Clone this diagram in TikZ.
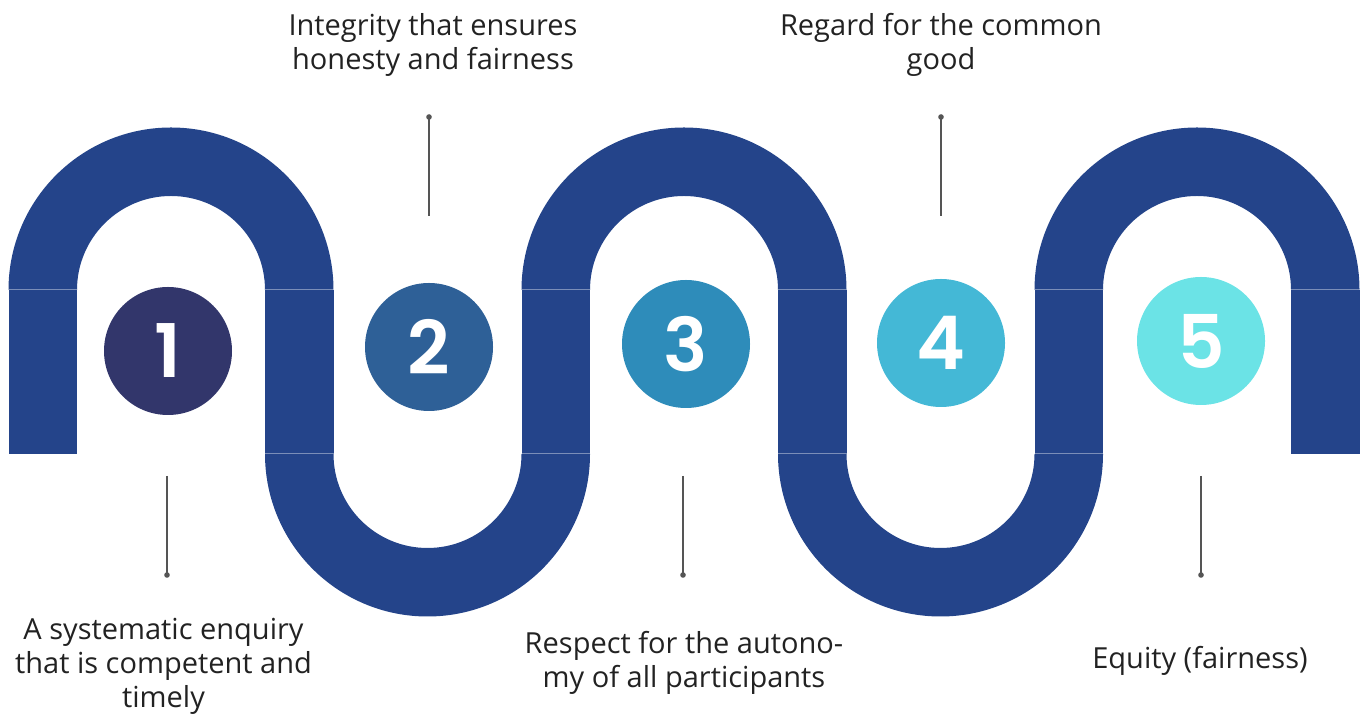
\documentclass[tikz,border=0pt]{standalone}
\usepackage{fontspec}
\setmainfont{Open Sans}
\newfontfamily\numfont{Poppins}[BoldFont={Poppins SemiBold}]
\definecolor{band}{HTML}{24448A}
\definecolor{cone}{HTML}{32366B}
\definecolor{ctwo}{HTML}{2E6097}
\definecolor{cthree}{HTML}{2E8CBA}
\definecolor{cfour}{HTML}{44B8D6}
\definecolor{cfive}{HTML}{6BE3E6}
\definecolor{txt}{HTML}{222222}
\definecolor{lead}{HTML}{555555}
\tikzset{
  num/.style={circle, minimum size=128pt, inner sep=0pt, text=white,
    font=\numfont\bfseries\fontsize{74}{74}\selectfont},
  label/.style={align=center, inner sep=0pt, text=txt, anchor=base,
    font=\fontsize{29}{34}\selectfont},
  leader/.style={draw=lead, line width=1.3pt},
  seam/.style={draw=white, opacity=0.4, line width=1pt},
}
\begin{document}
\begin{tikzpicture}[x=1pt,y=1pt]
\useasboundingbox (0,0) rectangle (1364,714);
\def\R{162.5}
\def\r{94}
% top arches
\foreach \cx in {171,684,1197}{
  \fill[band] (\cx-\R,424) arc[start angle=180,end angle=0,radius=\R]
    -- (\cx+\r,424) arc[start angle=0,end angle=180,radius=\r] -- cycle;
}
% bottom U's
\foreach \cx in {427.5,940.5}{
  \fill[band] (\cx-\R,260) arc[start angle=180,end angle=360,radius=\R]
    -- (\cx+\r,260) arc[start angle=360,end angle=180,radius=\r] -- cycle;
}
% straights
\foreach \xl in {8.5,265,521.5,778,1034.5,1291}{
  \fill[band] (\xl,260) rectangle (\xl+68.5,424);
  \draw[seam] (\xl,424) -- (\xl+68.5,424);
}
\foreach \xl in {265,521.5,778,1034.5}{
  \draw[seam] (\xl,260) -- (\xl+68.5,260);
}
% circles
\node[num, fill=cone]   (c1) at (168,363) {1};
\node[num, fill=ctwo]   (c2) at (429,367) {2};
\node[num, fill=cthree] (c3) at (686,370) {3};
\node[num, fill=cfour]  (c4) at (941,371) {4};
\node[num, fill=cfive]  (c5) at (1201,373) {5};
% leaders
\coordinate (a1) at (167,238); \coordinate (b1) at (167,139);
\coordinate (a2) at (429,498); \coordinate (b2) at (429,597);
\coordinate (a3) at (683,238); \coordinate (b3) at (683,139);
\coordinate (a4) at (941,498); \coordinate (b4) at (941,597);
\coordinate (a5) at (1201,238); \coordinate (b5) at (1201,139);
\foreach \i in {1,...,5}{
  \draw[leader] (a\i) -- (b\i);
  \fill[lead] (b\i) circle[radius=2.8];
}
% labels (anchor = baseline of last line)
\node[label] (t1) at (163.5,6) {A systematic enquiry\\that is competent and\\timely};
\node[label] (t2) at (433,644) {Integrity that ensures\\honesty and fairness};
\node[label] (t3) at (684,26) {Respect for the autono-\\my of all participants};
\node[label] (t4) at (941,644) {Regard for the common\\good};
\node[label] (t5) at (1200,45) {Equity (fairness)};
\end{tikzpicture}
\end{document}
